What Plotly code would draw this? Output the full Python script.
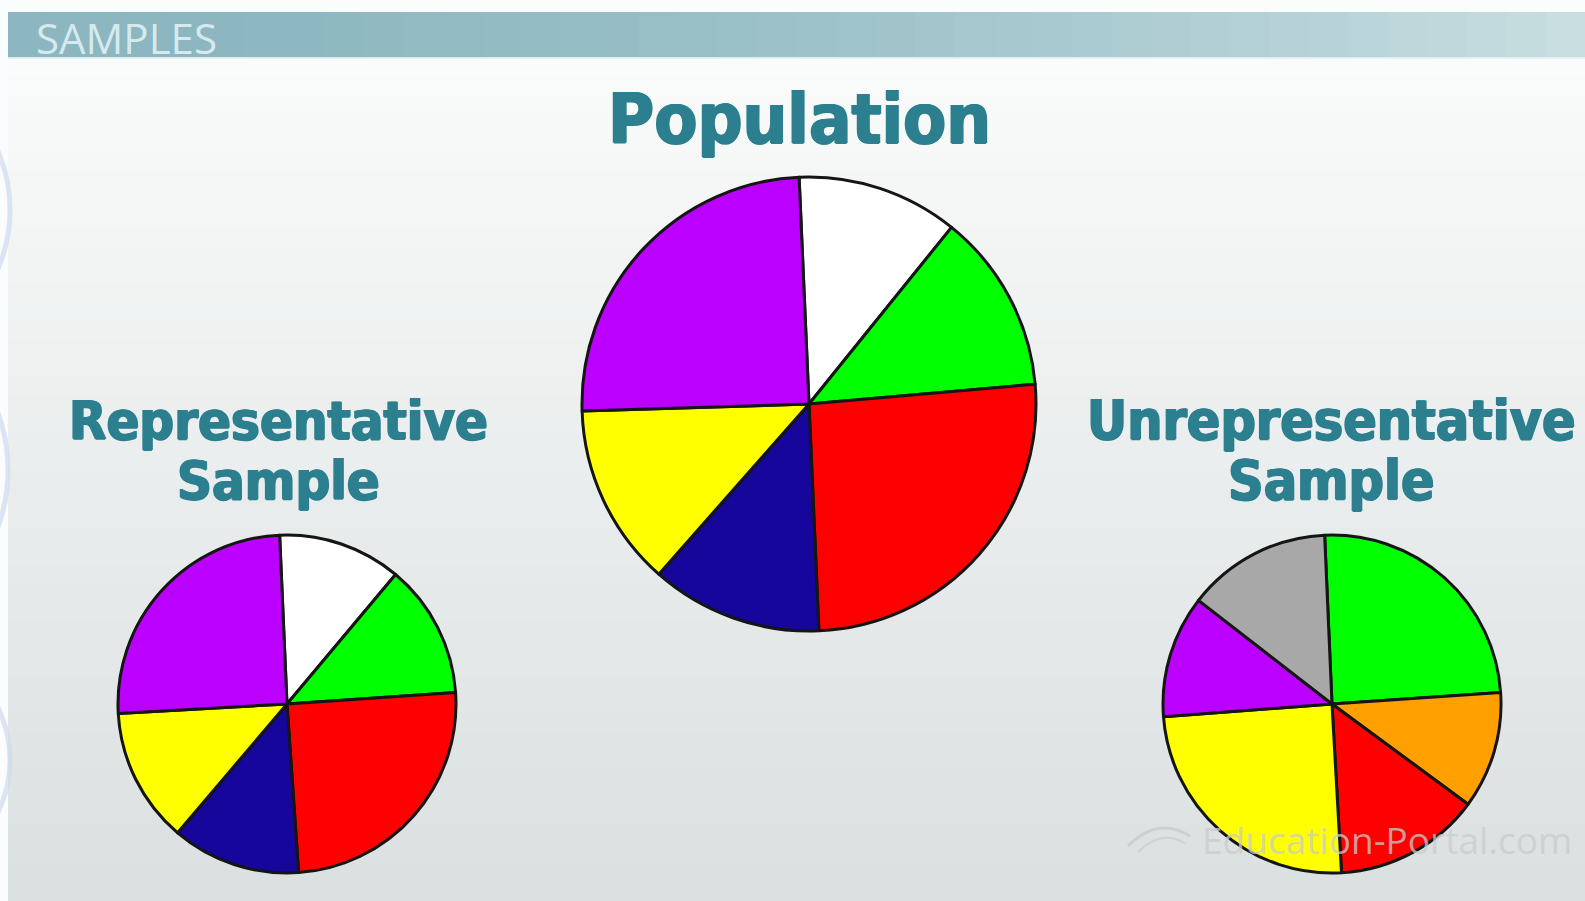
import plotly.graph_objects as go

W, H = 1585, 901

# ---------------- data ----------------
header_text = "SAMPLES"
titles = ["Population", "Representative", "Sample", "Unrepresentative", "Sample"]
watermark = "Education-Portal.com"

pop_labels = ["White", "Green", "Red", "Blue", "Yellow", "Purple"]
pop_values = [11.5, 12.8, 25.7, 12.2, 13.0, 24.8]
pop_colors = ["#ffffff", "#00ff00", "#ff0000", "#16069c", "#ffff00", "#bb00ff"]

rep_labels = ["White", "Green", "Red", "Blue", "Yellow", "Purple"]
rep_values = [11.8, 12.8, 25.0, 12.3, 12.9, 25.2]
rep_colors = ["#ffffff", "#00ff00", "#ff0000", "#16069c", "#ffff00", "#bb00ff"]

unrep_labels = ["Green", "Orange", "Red", "Yellow", "Purple", "Gray"]
unrep_values = [24.6, 11.2, 14.0, 24.7, 11.7, 13.8]
unrep_colors = ["#00ff00", "#ffa000", "#ff0000", "#ffff00", "#bb00ff", "#a8a8a8"]


def px_dom(cx, cy, r):
    return dict(x=[(cx - r) / W, (cx + r) / W], y=[1 - (cy + r) / H, 1 - (cy - r) / H])


def py(y):
    return 1 - y / H


fig = go.Figure()

line = dict(color="#151515", width=3)
for labels, values, colors, dom in [
    (pop_labels, pop_values, pop_colors, px_dom(809, 404, 227)),
    (rep_labels, rep_values, rep_colors, px_dom(287, 704, 169)),
    (unrep_labels, unrep_values, unrep_colors, px_dom(1332, 704, 169)),
]:
    fig.add_trace(go.Pie(
        labels=labels, values=values, sort=False, direction="clockwise",
        rotation=-2.5, domain=dom, textinfo="none", hoverinfo="label+percent",
        marker=dict(colors=colors, line=line), showlegend=False,
    ))

shapes = []
# page background gradient
n = 45
top, bot = (250, 251, 251), (219, 224, 224)
for i in range(n):
    t = i / (n - 1)
    c = tuple(int(top[k] + (bot[k] - top[k]) * t) for k in range(3))
    y0 = 58 + (H - 58) * i / n
    y1 = 58 + (H - 58) * (i + 1) / n + 1
    shapes.append(dict(type="rect", xref="paper", yref="paper", layer="below",
                       x0=0, x1=1, y0=py(y1), y1=py(y0),
                       fillcolor="rgb(%d,%d,%d)" % c, line=dict(width=0)))
# top strip
shapes.append(dict(type="rect", xref="paper", yref="paper", layer="below",
                   x0=0, x1=1, y0=py(12), y1=1, fillcolor="#fbfcfc", line=dict(width=0)))
# header bar gradient
m = 40
left, right = (140, 183, 192), (200, 222, 225)
for i in range(m):
    t = i / (m - 1)
    c = tuple(int(left[k] + (right[k] - left[k]) * t ** 1.8) for k in range(3))
    x0 = 8 + (W - 8) * i / m
    x1 = 8 + (W - 8) * (i + 1) / m + 1
    shapes.append(dict(type="rect", xref="paper", yref="paper", layer="below",
                       x0=x0 / W, x1=x1 / W, y0=py(58), y1=py(12),
                       fillcolor="rgb(%d,%d,%d)" % c, line=dict(width=0)))
shapes.append(dict(type="line", xref="paper", yref="paper", layer="below",
                   x0=8 / W, x1=1, y0=py(58), y1=py(58),
                   line=dict(color="rgba(230,240,242,0.9)", width=2)))
# left decorative strip
shapes.append(dict(type="rect", xref="paper", yref="paper", layer="below",
                   x0=0, x1=8 / W, y0=0, y1=1, fillcolor="#fbfcfd", line=dict(width=0)))
for (cx, cy, r) in [(-140, 210, 150), (-160, 470, 168), (-110, 760, 120)]:
    shapes.append(dict(type="circle", xref="paper", yref="paper", layer="below",
                       x0=(cx - r) / W, x1=(cx + r) / W, y0=py(cy + r), y1=py(cy - r),
                       line=dict(color="rgba(205,222,238,0.75)", width=5)))
# watermark logo arc
shapes.append(dict(type="path", xref="paper", yref="paper", layer="above",
                   path="M %f %f Q %f %f %f %f" % (1128 / W, py(846), 1158 / W, py(816), 1190 / W, py(836)),
                   line=dict(color="rgba(200,204,204,0.8)", width=3)))
shapes.append(dict(type="path", xref="paper", yref="paper", layer="above",
                   path="M %f %f Q %f %f %f %f" % (1138 / W, py(852), 1162 / W, py(828), 1186 / W, py(844)),
                   line=dict(color="rgba(200,204,204,0.7)", width=2)))

ann = []
title_font = "DejaVu Sans Condensed, DejaVu Sans, sans-serif"
tcol = "#2c7f8f"
shadow = "1px 0px 0px %s, -1px 0px 0px %s, 0px 1px 0px %s" % (tcol, tcol, tcol)


def title(txt, x, y, size):
    return dict(text="<b>%s</b>" % txt, x=x / W, y=py(y), xref="paper", yref="paper",
                xanchor="center", yanchor="middle", showarrow=False,
                font=dict(family=title_font, size=size, color=tcol, shadow=shadow))


ann.append(title(titles[0], 799, 119, 70))
ann.append(title(titles[1], 278, 420, 54))
ann.append(title(titles[2], 278, 480, 54))
ann.append(title(titles[3], 1331, 420, 55))
ann.append(title(titles[4], 1331, 480, 55))
ann.append(dict(text=header_text, x=34 / W, y=py(37), xref="paper", yref="paper",
                xanchor="left", yanchor="middle", showarrow=False,
                font=dict(family="Open Sans, DejaVu Sans, sans-serif", size=42, color="#d6eaed")))
ann.append(dict(text=watermark, x=1200 / W, y=py(839), xref="paper", yref="paper",
                xanchor="left", yanchor="middle", showarrow=False,
                font=dict(family="Open Sans, DejaVu Sans, sans-serif", size=37,
                          color="rgba(200,204,204,0.75)")))

fig.update_layout(width=W, height=H, margin=dict(l=0, r=0, t=0, b=0),
                  paper_bgcolor="#eef0f0", plot_bgcolor="#eef0f0",
                  shapes=shapes, annotations=ann, showlegend=False)

fig.write_html("out.html")
